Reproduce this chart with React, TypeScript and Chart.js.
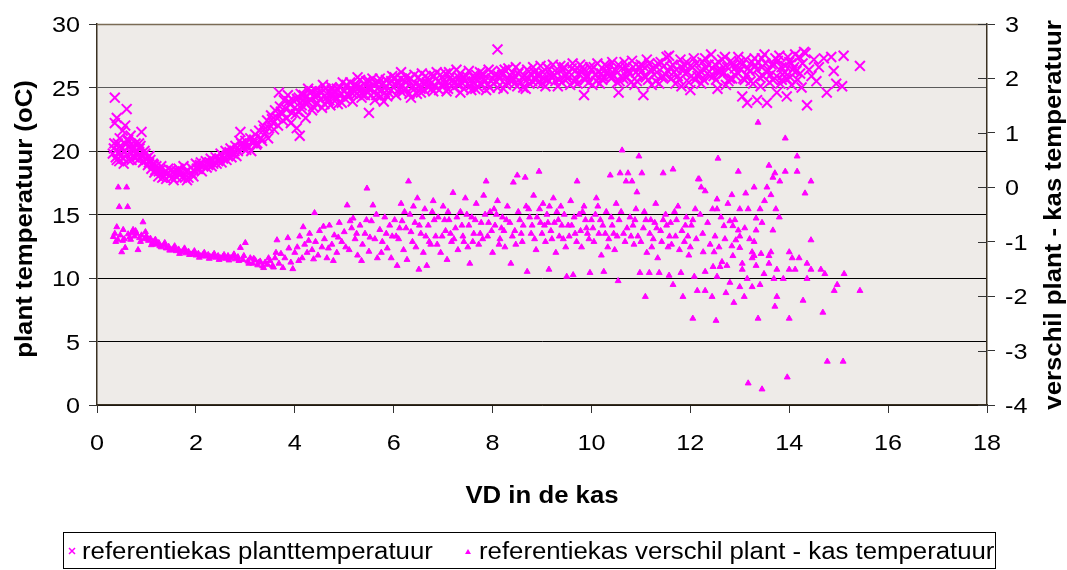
import { useEffect, useRef } from 'react';
import { Chart, registerables } from 'chart.js';

Chart.register(...registerables);

// ---------- DATA ----------
const xTickValues = [0, 2, 4, 6, 8, 10, 12, 14, 16, 18];
const leftTickValues = [0, 5, 10, 15, 20, 25, 30];
const rightTickValues = [-4, -3, -2, -1, 0, 1, 2, 3];

const seriesPlantLabel = 'referentiekas planttemperatuur';
const seriesDiffLabel = 'referentiekas verschil plant - kas temperatuur';
const xTitle = 'VD in de kas';
const leftTitle = 'plant temperatuur (oC)';
const rightTitle = 'verschil plant - kas temperatuur';

// plant temperature, VD < 4
const plantTempRise: number[][] = [
  [0.32, 19.8], [0.34, 20.2], [0.36, 24.2], [0.36, 22.2], [0.38, 19.5], [0.4, 22.6], [0.42, 20.6], [0.44, 19.9],
  [0.46, 21.0], [0.48, 19.6], [0.5, 20.3], [0.52, 21.6], [0.53, 19.4], [0.55, 20.0], [0.57, 22.0], [0.6, 23.3],
  [0.6, 19.7], [0.62, 20.8], [0.64, 19.3], [0.66, 20.4], [0.68, 21.2], [0.7, 19.8], [0.72, 20.1], [0.75, 19.5],
  [0.78, 20.6], [0.8, 19.9], [0.83, 19.3], [0.86, 20.2], [0.9, 21.5], [0.9, 19.6], [0.93, 19.1], [0.96, 20.0],
  [1.0, 19.4], [1.03, 18.9], [1.06, 19.6], [1.1, 18.6], [1.13, 19.0], [1.16, 18.3], [1.2, 18.8], [1.24, 18.0],
  [1.28, 18.5], [1.32, 17.9], [1.36, 18.3], [1.4, 17.8], [1.44, 18.6], [1.48, 18.1], [1.52, 17.9], [1.56, 18.4],
  [1.6, 18.0], [1.65, 18.6], [1.7, 18.2], [1.75, 18.8], [1.8, 18.4], [1.85, 17.9], [1.9, 18.7], [1.95, 18.5],
  [2.0, 19.0], [2.05, 18.6], [2.1, 19.1], [2.15, 18.8], [2.2, 19.2], [2.25, 18.9], [2.3, 19.4], [2.35, 19.0],
  [2.4, 19.5], [2.45, 19.2], [2.5, 19.8], [2.55, 19.4], [2.6, 20.0], [2.65, 19.6], [2.7, 20.2], [2.75, 19.8],
  [2.8, 20.4], [2.85, 20.0], [2.9, 21.5], [2.92, 20.6], [2.96, 20.2], [3.0, 20.8], [3.05, 20.4], [3.1, 21.0],
  [3.15, 20.6], [3.2, 21.3], [3.24, 20.6], [3.28, 21.6], [3.32, 21.0], [3.36, 22.0], [3.4, 21.4], [3.44, 22.4],
  [3.48, 21.8], [3.52, 22.8], [3.56, 22.2], [3.6, 23.2], [3.64, 22.6], [3.68, 24.6], [3.7, 23.5], [3.74, 22.9],
  [3.78, 24.0], [3.82, 23.3], [3.86, 24.4], [3.9, 23.7], [3.92, 22.2], [3.96, 24.0], [4.0, 23.4],
  [0.45, 19.2], [0.58, 20.5], [0.7, 19.3], [0.85, 20.6], [0.98, 19.8], [1.08, 19.3], [1.18, 18.5], [1.3, 18.8],
  [1.42, 18.2], [1.55, 17.7], [1.67, 18.3], [1.78, 17.9], [1.92, 18.2], [2.02, 18.6], [2.12, 18.4], [2.22, 18.7],
  [2.32, 18.8], [2.42, 19.0], [2.52, 19.1], [2.62, 19.3], [2.72, 19.5], [2.82, 19.6], [2.88, 20.8], [3.02, 20.1],
  [3.12, 20.0], [3.22, 20.5], [3.34, 20.8], [3.46, 21.0], [3.58, 21.7], [3.66, 22.0], [3.76, 22.4], [3.84, 22.6],
  [3.94, 23.0], [1.95, 18.0], [1.82, 17.7],
  [0.35, 20.6], [0.4, 19.3], [0.47, 20.4], [0.54, 19.0], [0.63, 20.9], [0.74, 20.3], [0.82, 19.6], [0.88, 20.4],
  [0.95, 19.2], [1.05, 19.1], [1.15, 18.9], [1.25, 18.4], [1.35, 18.0], [1.5, 18.5], [1.62, 18.4], [1.72, 17.9],
  [2.08, 18.9], [2.28, 19.1], [2.48, 19.4], [2.68, 19.9], [2.78, 20.0], [2.98, 20.5], [3.18, 20.9], [3.38, 21.7],
  [3.54, 22.5], [3.72, 23.1], [3.88, 23.9],
];

// plant temperature, VD >= 4 (first pass)
const plantTempPlateauA: number[][] = [
  [4.04, 21.8], [4.08, 24.2], [4.1, 21.2], [4.14, 23.6], [4.18, 24.4], [4.22, 22.6], [4.26, 23.9], [4.3, 24.6],
  [4.35, 23.2], [4.4, 24.3], [4.45, 23.8], [4.5, 24.7], [4.55, 23.4], [4.6, 23.7], [4.65, 24.5], [4.7, 24.0],
  [4.75, 24.8], [4.8, 24.2], [4.85, 24.9], [4.9, 24.4], [4.95, 23.8], [5.0, 24.7], [5.05, 25.1], [5.1, 24.3],
  [5.15, 24.9], [5.2, 25.2], [5.25, 24.5], [5.3, 25.0], [5.35, 24.2], [5.4, 25.3], [5.45, 24.7], [5.5, 25.5],
  [5.5, 23.0], [5.55, 24.9], [5.6, 25.2], [5.65, 24.4], [5.7, 25.4], [5.75, 24.8], [5.8, 23.9], [5.85, 25.1],
  [5.9, 24.6], [5.95, 25.5], [6.0, 25.0], [6.05, 24.4], [6.1, 25.3], [6.15, 26.2], [6.2, 24.8], [6.3, 25.6],
  [6.35, 24.2], [6.4, 25.1], [6.5, 25.8], [6.55, 24.6], [6.6, 25.3], [6.7, 25.0], [6.75, 26.0], [6.8, 24.7],
  [6.9, 25.5], [7.0, 25.1], [7.05, 26.1], [7.1, 24.9], [7.2, 25.6], [7.3, 25.2], [7.35, 24.6], [7.4, 25.8],
  [7.5, 25.3], [7.6, 25.9], [7.65, 24.9], [7.7, 25.5], [7.8, 26.1], [7.9, 25.2], [8.0, 25.7], [8.1, 28.0],
  [8.1, 25.0], [8.2, 26.0], [8.3, 25.4], [8.4, 26.2], [8.5, 25.1], [8.6, 25.8], [8.7, 26.4], [8.8, 25.5],
  [8.9, 26.0], [9.0, 25.3], [9.1, 26.6], [9.2, 25.8], [9.3, 26.2], [9.4, 25.4], [9.5, 26.0], [9.6, 26.5],
  [9.7, 25.6], [9.8, 26.2], [9.85, 24.4], [9.9, 25.8], [10.0, 26.4], [10.1, 25.5], [10.2, 26.1], [10.3, 26.7],
  [10.4, 25.7], [10.5, 26.3], [10.55, 24.6], [10.6, 25.9], [10.7, 26.6], [10.8, 25.4], [10.9, 26.2], [11.0, 26.8],
  [11.05, 24.4], [11.1, 25.8], [11.2, 26.4], [11.3, 25.5], [11.4, 27.0], [11.5, 26.0], [11.6, 26.6], [11.7, 25.3],
  [11.8, 27.2], [11.9, 26.1], [12.0, 24.8], [12.0, 26.7], [12.1, 25.6], [12.2, 26.3], [12.3, 27.3], [12.4, 25.9],
  [12.5, 26.8], [12.55, 24.9], [12.6, 26.2], [12.7, 27.4], [12.8, 25.7], [12.9, 26.5], [13.0, 27.0], [13.05, 24.3],
  [13.1, 25.6], [13.15, 23.8], [13.2, 26.3], [13.3, 27.3], [13.35, 24.0], [13.4, 25.8], [13.45, 26.6], [13.5, 27.6],
  [13.55, 23.8], [13.6, 25.4], [13.7, 26.8], [13.75, 24.6], [13.8, 27.5], [13.85, 25.6], [13.9, 26.2], [13.95, 24.3],
  [14.0, 27.0], [14.05, 25.2], [14.1, 26.6], [14.2, 27.4], [14.25, 25.0], [14.3, 27.8], [14.36, 23.6], [14.4, 26.4],
  [14.5, 27.2], [14.55, 25.5], [14.7, 27.3], [14.76, 24.6], [14.9, 26.3], [15.07, 25.1], [15.1, 27.5], [15.43, 26.7],
];

// plant temperature, VD >= 4 (second pass)
const plantTempPlateauB: number[][] = [
  [4.02, 22.9], [4.12, 24.5], [4.22, 23.8], [4.32, 24.0], [4.42, 24.8], [4.52, 24.1], [4.62, 24.9], [4.72, 23.6],
  [4.82, 24.6], [4.92, 25.0], [5.02, 24.1], [5.12, 25.4], [5.22, 24.7], [5.32, 25.6], [5.42, 24.4], [5.52, 25.0],
  [5.62, 24.0], [5.72, 25.7], [5.82, 24.6], [5.92, 25.3], [6.02, 25.8], [6.12, 24.9], [6.22, 25.5], [6.32, 24.5],
  [6.42, 26.0], [6.52, 25.2], [6.62, 24.8], [6.72, 25.6], [6.82, 25.9], [6.92, 24.8], [7.02, 25.6], [7.12, 26.2],
  [7.22, 25.0], [7.32, 25.8], [7.42, 24.9], [7.52, 26.3], [7.62, 25.4], [7.72, 25.0], [7.82, 25.7], [7.92, 26.4],
  [8.02, 25.3], [8.12, 25.9], [8.22, 24.9], [8.32, 26.5], [8.42, 25.6], [8.52, 26.1], [8.62, 25.0], [8.72, 25.7],
  [8.82, 26.6], [8.92, 25.4], [9.02, 26.2], [9.12, 25.6], [9.22, 26.8], [9.32, 25.1], [9.42, 26.4], [9.52, 25.7],
  [9.62, 26.9], [9.72, 25.3], [9.82, 26.6], [9.92, 25.9], [10.02, 25.2], [10.12, 26.9], [10.22, 25.6], [10.32, 26.2],
  [10.42, 27.0], [10.52, 25.4], [10.62, 26.5], [10.72, 25.8], [10.82, 27.1], [10.92, 25.5], [11.02, 26.3], [11.12, 27.2],
  [11.22, 25.2], [11.32, 26.6], [11.42, 25.8], [11.52, 27.4], [11.62, 25.7], [11.72, 26.4], [11.82, 25.1], [11.92, 27.0],
  [12.02, 25.9], [12.12, 26.9], [12.22, 25.3], [12.32, 26.5], [12.42, 27.6], [12.52, 25.6], [12.62, 26.4], [12.72, 25.2],
  [12.82, 27.1], [12.92, 25.9], [13.02, 26.4], [13.12, 27.2], [13.22, 25.5], [13.32, 26.7], [13.42, 25.1], [13.52, 26.9],
  [13.62, 26.0], [13.72, 27.3], [13.82, 25.3], [13.92, 26.7], [14.02, 25.8], [14.12, 27.6], [14.22, 26.1],
];

// plant temperature, VD >= 4 (third pass)
const plantTempPlateauC: number[][] = [
  [4.07, 23.1], [4.17, 24.0], [4.27, 24.9], [4.37, 23.5], [4.47, 24.4], [4.57, 25.2], [4.67, 23.9], [4.77, 24.5],
  [4.87, 23.7], [4.97, 25.4], [5.07, 24.5], [5.17, 23.9], [5.27, 25.8], [5.37, 24.9], [5.47, 25.0], [5.57, 25.7],
  [5.67, 24.9], [5.77, 25.2], [5.87, 24.3], [5.97, 25.9], [6.07, 25.5], [6.17, 24.6], [6.27, 25.9], [6.37, 25.0],
  [6.47, 24.5], [6.57, 26.1], [6.67, 25.4], [6.77, 24.9], [6.87, 26.2], [6.97, 25.2], [7.07, 24.7], [7.17, 25.5],
  [7.27, 26.4], [7.37, 25.4], [7.47, 25.9], [7.57, 24.8], [7.67, 26.0], [7.77, 25.3], [7.87, 24.8], [7.97, 26.2],
  [8.07, 25.5], [8.17, 26.3], [8.27, 25.2], [8.37, 25.9], [8.47, 26.6], [8.57, 25.4], [8.67, 24.9], [8.77, 26.1],
  [8.87, 25.6], [8.97, 26.7], [9.07, 25.1], [9.17, 26.0], [9.27, 25.5], [9.37, 26.7], [9.47, 25.9], [9.57, 25.2],
  [9.67, 26.3], [9.77, 26.8], [9.87, 25.6], [9.97, 26.6], [10.07, 26.0], [10.17, 25.3], [10.27, 26.8], [10.37, 25.9],
  [10.47, 26.4], [10.57, 25.5], [10.67, 27.0], [10.77, 26.1], [10.87, 25.2], [10.97, 26.6], [11.07, 25.9], [11.17, 26.9],
  [11.27, 26.0], [11.37, 25.3], [11.47, 26.7], [11.57, 27.5], [11.67, 26.2], [11.77, 25.6], [11.87, 26.8], [11.97, 25.4],
  [12.07, 27.3], [12.17, 26.1], [12.27, 25.6], [12.37, 26.8], [12.47, 25.9], [12.57, 27.0], [12.67, 26.1], [12.77, 25.5],
  [12.87, 26.8], [12.97, 27.4], [13.07, 25.7], [13.17, 26.5], [13.27, 25.3], [13.37, 27.0], [13.47, 25.9], [13.57, 26.4],
  [13.67, 25.6], [13.77, 27.1], [13.87, 26.0], [13.97, 27.4], [14.07, 26.4], [14.17, 25.6], [14.27, 26.9], [14.33, 27.7],
  [14.45, 25.9], [14.6, 26.6], [14.85, 27.4], [14.95, 25.3],
];

// plant temperature, VD >= 4 (fourth pass)
const plantTempPlateauD: number[][] = [
  [4.045, 24.1], [4.145, 23.3], [4.245, 24.3], [4.345, 24.7], [4.445, 23.7], [4.545, 24.6], [4.645, 24.2], [4.745, 25.0],
  [4.845, 24.1], [4.945, 24.5], [5.045, 25.2], [5.145, 24.6], [5.245, 25.1], [5.345, 24.5], [5.445, 25.5], [5.545, 24.4],
  [5.645, 25.3], [5.745, 24.3], [5.845, 25.6], [5.945, 24.8], [6.045, 25.2], [6.145, 25.7], [6.245, 24.9], [6.345, 25.7],
  [6.445, 25.3], [6.545, 24.9], [6.645, 25.9], [6.745, 25.3], [6.845, 25.1], [6.945, 26.0], [7.045, 25.3], [7.145, 25.8],
  [7.245, 25.4], [7.345, 26.1], [7.445, 25.5], [7.545, 25.1], [7.645, 25.7], [7.745, 26.2], [7.845, 25.5], [7.945, 25.0],
  [8.045, 26.0], [8.145, 25.7], [8.245, 26.4], [8.345, 25.6], [8.445, 25.3], [8.545, 26.3], [8.645, 25.9], [8.745, 25.3],
  [8.845, 26.2], [8.945, 26.0], [9.045, 25.7], [9.145, 26.4], [9.245, 25.9], [9.345, 25.6], [9.445, 26.6], [9.545, 26.2],
  [9.645, 25.5], [9.745, 26.1], [9.845, 26.4], [9.945, 25.4], [10.045, 26.6], [10.145, 26.2], [10.245, 25.8], [10.345, 26.5],
  [10.445, 25.9], [10.545, 26.8], [10.645, 25.7], [10.745, 26.3], [10.845, 26.6], [10.945, 26.0], [11.045, 26.7], [11.145, 25.6],
  [11.245, 26.5], [11.345, 26.9], [11.445, 25.9], [11.545, 26.3], [11.645, 26.8], [11.745, 25.9], [11.845, 26.5], [11.945, 26.2],
  [12.045, 26.6], [12.145, 25.9], [12.245, 27.0], [12.345, 26.1], [12.445, 26.5], [12.545, 26.3], [12.645, 27.2], [12.745, 26.6],
  [12.845, 25.7], [12.945, 26.2], [13.045, 26.8], [13.145, 26.0], [13.245, 27.0], [13.345, 26.4], [13.445, 27.3], [13.545, 26.2],
  [13.645, 26.8], [13.745, 25.9], [13.845, 26.6], [13.945, 25.7], [14.045, 26.9], [14.145, 26.3],
];

// difference plant - greenhouse, VD < 4
const diffLow: number[][] = [
  [0.33, -0.91], [0.36, -0.85], [0.4, -0.73], [0.42, -0.96], [0.43, 0.0], [0.45, -0.36], [0.47, -0.88], [0.5, -1.19],
  [0.53, -0.78], [0.55, -0.95], [0.57, -1.11], [0.6, 0.0], [0.62, -0.36], [0.63, -0.86], [0.66, -0.92], [0.7, -0.84],
  [0.73, -0.78], [0.76, -0.9], [0.8, -0.85], [0.83, -1.15], [0.86, -0.93], [0.9, -0.88], [0.93, -0.64], [0.96, -0.95],
  [1.0, -0.9], [1.04, -0.98], [1.08, -0.94], [1.12, -1.02], [1.16, -0.99], [1.2, -1.05], [1.25, -1.02], [1.3, -1.1],
  [1.35, -1.06], [1.4, -1.12], [1.45, -1.09], [1.5, -1.15], [1.55, -1.12], [1.6, -1.17], [1.65, -1.14], [1.7, -1.19],
  [1.75, -1.16], [1.8, -1.21], [1.85, -1.18], [1.9, -1.23], [1.95, -1.2], [2.0, -1.25], [2.05, -1.22], [2.1, -1.26],
  [2.15, -1.23], [2.2, -1.27], [2.25, -1.24], [2.3, -1.28], [2.35, -1.25], [2.4, -1.29], [2.45, -1.26], [2.5, -1.3],
  [2.55, -1.27], [2.6, -1.31], [2.65, -1.26], [2.7, -1.3], [2.75, -1.27], [2.8, -1.32], [2.85, -1.28], [2.9, -1.11],
  [2.95, -1.33], [3.0, -1.02], [3.05, -1.36], [3.1, -1.3], [3.15, -1.4], [3.2, -1.34], [3.25, -1.43], [3.3, -1.36],
  [3.35, -1.45], [3.4, -1.38], [3.45, -1.42], [3.5, -1.35], [3.55, -1.44], [3.6, -1.3], [3.64, -0.97], [3.68, -1.4],
  [3.72, -1.22], [3.76, -1.48], [3.8, -1.3], [3.86, -0.93], [3.88, -1.12], [3.92, -1.38], [3.96, -1.5], [4.0, -1.2],
  [0.38, -1.0], [0.52, -0.98], [0.68, -0.96], [0.78, -0.8], [0.88, -1.0], [0.98, -0.82],
  [1.02, -0.94], [1.1, -1.06], [1.18, -0.96], [1.27, -1.08], [1.37, -1.02], [1.47, -1.16], [1.57, -1.08], [1.67, -1.22],
  [1.77, -1.12], [1.87, -1.24], [1.97, -1.17], [2.07, -1.29], [2.17, -1.2], [2.27, -1.31], [2.37, -1.22], [2.47, -1.33],
  [2.57, -1.24], [2.67, -1.34], [2.77, -1.23], [2.87, -1.35], [2.97, -1.26], [3.07, -1.4], [3.17, -1.31], [3.27, -1.38],
  [3.37, -1.48], [3.47, -1.3], [3.57, -1.47], [3.62, -1.2],
];

// difference plant - greenhouse, 4 <= VD < 12
const diffMid: number[][] = [
  [4.05, -1.1], [4.1, -0.9], [4.15, -1.3], [4.17, -0.73], [4.2, -1.05], [4.25, -1.2], [4.3, -0.85], [4.35, -1.15],
  [4.4, -0.47], [4.42, -1.0], [4.47, -1.25], [4.5, -0.8], [4.55, -1.1], [4.6, -0.95], [4.65, -1.3], [4.7, -0.7],
  [4.75, -1.05], [4.8, -0.88], [4.85, -1.2], [4.9, -0.65], [4.95, -1.0], [5.0, -0.82], [5.06, -0.33], [5.1, -1.15],
  [5.15, -0.75], [5.18, -0.57], [5.22, -0.95], [5.27, -1.25], [5.32, -0.7], [5.37, -1.05], [5.42, -0.85], [5.46, -0.02],
  [5.5, -1.18], [5.55, -0.62], [5.58, -0.33], [5.62, -0.95], [5.67, -1.3], [5.72, -0.78], [5.77, -1.0], [5.82, -0.55],
  [5.87, -1.12], [5.92, -0.7], [5.97, -0.9],
  [4.08, -1.35], [4.28, -0.98], [4.38, -1.32], [4.58, -0.72], [4.68, -1.12], [4.78, -1.35], [4.88, -0.92], [5.03, -1.1],
  [5.12, -0.62], [5.25, -0.85], [5.35, -1.35], [5.45, -0.6], [5.52, -0.92], [5.65, -0.5], [5.75, -1.2], [5.85, -0.85],
  [5.95, -1.3],
  [6.02, -0.6], [6.07, -1.44], [6.1, -0.95], [6.15, -0.3], [6.2, -1.15], [6.25, -0.75], [6.27, -1.33], [6.3, 0.11],
  [6.33, -0.5], [6.38, -1.0], [6.43, -0.65], [6.48, -0.2], [6.51, -1.51], [6.55, -0.85], [6.6, -1.2], [6.63, -0.4],
  [6.67, -1.44], [6.7, -0.7], [6.75, -1.05], [6.8, -0.25], [6.85, -0.9], [6.9, -0.55], [6.95, -1.2], [7.0, -0.35],
  [7.05, -0.8], [7.08, -1.33], [7.12, -0.6], [7.17, -1.0], [7.2, -0.1], [7.25, -0.75], [7.3, -1.15], [7.35, -0.45],
  [7.4, -0.9], [7.45, -0.2], [7.5, -1.1], [7.54, -1.4], [7.58, -0.55], [7.62, -0.85], [7.67, -0.3], [7.72, -1.05],
  [7.77, -0.65], [7.82, -0.15], [7.87, 0.11], [7.9, -0.9], [7.95, -0.45], [8.0, -1.2], [8.05, -0.7], [8.1, -0.25],
  [8.15, -0.95], [8.2, -0.55], [8.25, -1.1], [8.3, -0.35], [8.37, -1.4], [8.42, 0.09], [8.45, -0.8], [8.5, 0.22],
  [8.55, -0.6], [8.6, -1.0], [8.66, 0.18], [8.7, -1.55], [8.73, -0.4], [8.78, -0.85], [8.83, -0.15], [8.88, -1.15],
  [8.94, 0.29], [8.97, -0.65], [9.02, -0.3], [9.07, -1.0], [9.1, -0.5], [9.14, -1.51], [9.18, -0.8], [9.23, -0.2],
  [9.28, -1.2], [9.33, -0.6], [9.38, -0.35], [9.43, -0.95], [9.5, -1.64], [9.53, -0.7], [9.58, -0.25], [9.63, -1.61],
  [9.67, -0.85], [9.71, 0.11], [9.75, -0.5], [9.8, -1.1], [9.85, -0.35], [9.9, -0.75], [9.97, -1.57], [10.0, -0.6],
  [10.05, -1.0], [10.1, -0.2], [10.15, -0.85], [10.2, -1.25], [10.25, -1.55], [10.3, -0.45], [10.35, -0.95], [10.38, 0.22],
  [10.42, -0.7], [10.47, -1.15], [10.5, -0.3], [10.54, -1.72], [10.58, 0.26], [10.62, 0.68], [10.65, -0.85], [10.7, 0.11],
  [10.74, 0.26], [10.78, -0.55], [10.82, 0.11], [10.86, -1.05], [10.9, -0.4], [10.92, -0.09], [10.96, 0.57], [10.98, -1.57],
  [11.02, 0.26], [11.05, -0.75], [11.09, -2.01], [11.12, -1.2], [11.17, -1.57], [11.2, -0.6], [11.25, -0.95], [11.3, -0.3],
  [11.34, -1.3], [11.37, -1.57], [11.4, -0.8], [11.45, 0.26], [11.5, -0.5], [11.55, -1.1], [11.57, -1.62], [11.6, -0.65],
  [11.65, 0.33], [11.65, -1.79], [11.7, -0.9], [11.75, -0.35], [11.81, -1.57], [11.85, -2.01], [11.88, -1.0], [11.92, -0.55],
  [11.97, -1.25],
  [6.05, -0.9], [6.17, -0.62], [6.35, -0.82], [6.45, -1.1], [6.58, -0.55], [6.72, -1.0], [6.82, -0.6], [6.98, -0.9],
  [7.1, -0.45], [7.22, -0.95], [7.38, -0.7], [7.48, -0.5], [7.6, -1.0], [7.75, -0.85], [7.85, -0.5], [7.98, -0.8],
  [8.08, -0.5], [8.18, -0.75], [8.28, -0.6], [8.4, -0.9], [8.52, -0.45], [8.62, -0.7], [8.75, -0.55], [8.85, -0.95],
  [8.95, -0.4], [9.05, -0.7], [9.15, -0.35], [9.25, -0.65], [9.35, -0.9], [9.45, -0.5], [9.55, -0.9], [9.65, -0.55],
  [9.78, -0.8], [9.88, -0.6], [9.95, -0.95], [10.08, -0.5], [10.18, -0.6], [10.28, -0.85], [10.4, -0.55], [10.52, -0.9],
  [10.6, -0.45], [10.72, -0.75], [10.84, -0.7], [10.94, -0.9], [11.07, -0.45], [11.18, -0.85], [11.28, -0.65], [11.42, -1.0],
  [11.52, -0.7], [11.62, -1.05], [11.72, -0.6], [11.83, -0.8], [11.95, -0.9],
  [6.12, -0.75], [6.22, -0.45], [6.4, -0.35], [6.52, -0.7], [6.65, -0.9], [6.78, -0.45], [6.88, -1.05], [7.03, -0.6],
  [7.15, -0.85], [7.28, -0.55], [7.42, -1.0], [7.52, -0.7], [7.65, -0.6], [7.8, -0.95], [7.92, -0.65], [8.03, -0.4],
  [8.13, -1.05], [8.23, -0.8], [8.35, -0.65], [8.47, -1.05], [8.58, -0.85], [8.68, -0.35], [8.8, -0.7], [8.9, -0.55],
  [9.0, -0.85], [9.12, -0.65], [9.2, -0.95], [9.3, -0.45], [9.4, -0.7], [9.48, -1.1], [9.6, -0.7], [9.7, -1.0],
  [9.82, -0.45], [9.92, -0.85], [10.03, -0.75], [10.13, -0.35], [10.23, -0.7], [10.33, -1.1], [10.45, -0.85], [10.56, -0.6],
  [10.68, -1.0], [10.8, -0.9], [10.88, -0.6], [11.0, -1.0], [11.1, -0.6], [11.22, -1.1], [11.32, -0.75], [11.45, -0.6],
  [11.58, -0.9], [11.68, -0.45], [11.78, -1.15], [11.9, -0.7],
];

// difference plant - greenhouse, VD >= 12
const diffHigh: number[][] = [
  [12.0, -1.1], [12.02, -0.7], [12.05, -2.41], [12.08, -1.64], [12.1, -0.4], [12.14, -1.9], [12.16, 0.15],
  [12.18, 0.15], [12.22, 0.0], [12.26, -1.19], [12.3, -0.07], [12.3, -1.55], [12.3, -1.9], [12.44, -2.01], [12.46, -1.46],
  [12.48, -1.19], [12.52, -2.45], [12.54, -0.22], [12.54, -0.4], [12.54, -1.64], [12.56, 0.53], [12.6, -1.46], [12.64, -1.37],
  [12.68, -0.71], [12.72, -1.94], [12.74, -1.44], [12.8, -0.62], [12.8, -1.75], [12.84, -0.14], [12.84, -1.08], [12.86, -0.71],
  [12.86, -1.26], [12.88, -2.12], [12.92, -0.97], [12.97, 0.29], [12.97, -0.79], [13.0, -0.4], [13.0, -0.9], [13.0, -1.11],
  [13.0, -1.83], [13.05, -1.4], [13.05, -1.51], [13.09, -2.01], [13.12, -0.11], [13.15, -1.68], [13.17, -0.4], [13.17, -3.6],
  [13.25, -1.19], [13.25, -1.3], [13.25, -1.83], [13.29, 0.0], [13.29, -1.0], [13.29, -1.26], [13.33, -0.57], [13.33, -0.79],
  [13.33, -1.44], [13.37, 1.19], [13.37, -2.41], [13.41, -0.4], [13.41, -1.79], [13.43, -1.22], [13.45, -3.71], [13.49, -1.59],
  [13.55, 0.0], [13.59, 0.4], [13.59, -1.26], [13.59, -1.4], [13.63, -0.14], [13.63, -1.19], [13.67, 0.18], [13.67, -0.79],
  [13.69, -1.68], [13.71, 0.26], [13.71, -2.19], [13.73, -0.4], [13.75, -1.51], [13.75, -2.01], [13.8, -0.55], [13.81, 0.11],
  [13.88, -1.68], [13.92, 0.9], [13.92, 0.29], [13.96, -3.49], [14.0, -1.19], [14.0, -1.51], [14.0, -2.41], [14.06, -1.3],
  [14.12, -1.51], [14.16, 0.57], [14.16, 0.29], [14.2, -1.3], [14.28, -2.08], [14.32, -0.11], [14.36, -1.4], [14.36, -1.68],
  [14.44, 0.11], [14.44, -0.97], [14.44, -1.51], [14.64, -1.51], [14.68, -2.3], [14.72, -1.59], [14.77, -3.2], [14.91, -1.9],
  [14.97, -1.79], [15.09, -3.2], [15.11, -1.59], [15.43, -1.9],
  [12.05, -0.6], [12.12, -0.95], [12.2, -0.5], [12.25, -0.85], [12.35, -0.65], [12.4, -1.05], [12.45, -0.4], [12.5, -0.9],
  [12.58, -1.1], [12.62, -0.55], [12.7, -0.95], [12.76, -0.3], [12.9, -0.6], [13.1, -0.75], [13.2, -0.95], [13.45, -0.65],
  [13.5, -0.25],
];

// ---------- STYLE ----------
const FONT = '"Liberation Sans", Arial, Helvetica, sans-serif';
const MAGENTA = '#FF00FF';
const AXIS = '#3a3122';
const PLOT_BG = '#EEEBE8';
const STRETCH = 1.12;

function drawText(
  ctx: CanvasRenderingContext2D,
  text: string,
  x: number,
  y: number,
  size: number,
  bold: boolean,
  align: CanvasTextAlign,
  baseline: CanvasTextBaseline,
  rot = 0,
) {
  ctx.save();
  ctx.translate(x, y);
  if (rot) ctx.rotate(rot);
  ctx.scale(STRETCH, 1);
  ctx.font = `${bold ? 'bold ' : ''}${size}px ${FONT}`;
  ctx.textAlign = align;
  ctx.textBaseline = baseline;
  ctx.fillStyle = '#000';
  ctx.fillText(text, 0, 0);
  ctx.restore();
}

const decorPlugin = {
  id: 'decor',
  beforeDraw(chart: any) {
    const { ctx, chartArea: a } = chart;
    ctx.save();
    ctx.fillStyle = '#fff';
    ctx.fillRect(0, 0, chart.width, chart.height);
    ctx.fillStyle = PLOT_BG;
    ctx.fillRect(a.left, a.top, a.right - a.left, a.bottom - a.top);
    ctx.restore();
  },
  afterDraw(chart: any) {
    const { ctx, chartArea: a, scales } = chart;
    const xs = scales.x;
    const yl = scales.y;
    const yr = scales.y2;
    const tickSize = 22.5;
    const capHalf = (tickSize * 0.716) / 2;

    ctx.save();
    ctx.strokeStyle = '#7a6b55';
    ctx.lineWidth = 1.5;
    ctx.beginPath();
    ctx.moveTo(a.left, a.top + 0.5);
    ctx.lineTo(a.right, a.top + 0.5);
    ctx.stroke();
    ctx.strokeStyle = '#333';
    ctx.lineWidth = 1;
    for (const v of rightTickValues) {
      const py = Math.round(yr.getPixelForValue(v)) + 0.5;
      ctx.beginPath();
      ctx.moveTo(a.right - 9, py);
      ctx.lineTo(a.right, py);
      ctx.stroke();
    }
    ctx.restore();

    for (const v of xTickValues) {
      drawText(ctx, String(v), xs.getPixelForValue(v), 442 + capHalf, tickSize, false, 'center', 'alphabetic');
    }
    for (const v of leftTickValues) {
      drawText(ctx, String(v), 80, yl.getPixelForValue(v) + capHalf, tickSize, false, 'right', 'alphabetic');
    }
    for (const v of rightTickValues) {
      drawText(ctx, String(v), 1005, yr.getPixelForValue(v) + capHalf, tickSize, false, 'left', 'alphabetic');
    }

    drawText(ctx, xTitle, (a.left + a.right) / 2, 503, 23, true, 'center', 'alphabetic');
    drawText(ctx, leftTitle, 26, 219, 23, true, 'center', 'middle', -Math.PI / 2);
    drawText(ctx, rightTitle, 1055, 215, 23, true, 'center', 'middle', -Math.PI / 2);

    ctx.save();
    ctx.strokeStyle = '#000';
    ctx.lineWidth = 1;
    ctx.strokeRect(63.5, 532.5, 932, 36);
    const ly = 551;
    ctx.strokeStyle = MAGENTA;
    ctx.lineWidth = 1.5;
    ctx.beginPath();
    ctx.moveTo(69, ly - 3);
    ctx.lineTo(75, ly + 3);
    ctx.moveTo(75, ly - 3);
    ctx.lineTo(69, ly + 3);
    ctx.stroke();
    ctx.fillStyle = MAGENTA;
    ctx.beginPath();
    ctx.moveTo(468, ly - 2);
    ctx.lineTo(471, ly + 3);
    ctx.lineTo(465, ly + 3);
    ctx.closePath();
    ctx.fill();
    ctx.restore();
    drawText(ctx, seriesPlantLabel, 82, ly + 8, 23, false, 'left', 'alphabetic');
    drawText(ctx, seriesDiffLabel, 479, ly + 8, 23, false, 'left', 'alphabetic');
  },
};

const toPoints = (arr: number[][]) => arr.map(([x, y]) => ({ x, y }));
const setTicks = (values: number[]) => (scale: any) => {
  scale.ticks = values.map((v) => ({ value: v }));
};

export default function App() {
  const ref = useRef<HTMLCanvasElement>(null);

  useEffect(() => {
    const canvas = ref.current;
    if (!canvas) return;
    const chart = new Chart(canvas, {
      type: 'scatter',
      data: {
        datasets: [
          {
            label: seriesPlantLabel,
            data: toPoints([
              ...plantTempRise,
              ...plantTempPlateauA,
              ...plantTempPlateauB,
              ...plantTempPlateauC,
              ...plantTempPlateauD,
            ]),
            yAxisID: 'y',
            pointStyle: 'crossRot',
            pointRadius: 7,
            pointBorderWidth: 2,
            borderColor: MAGENTA,
            backgroundColor: MAGENTA,
          },
          {
            label: seriesDiffLabel,
            data: toPoints([...diffLow, ...diffMid, ...diffHigh]),
            yAxisID: 'y2',
            pointStyle: 'triangle',
            pointRadius: 3.4,
            pointBorderWidth: 1,
            borderColor: MAGENTA,
            backgroundColor: MAGENTA,
          },
        ],
      },
      options: {
        responsive: false,
        animation: false,
        devicePixelRatio: 1,
        events: [],
        layout: { padding: { top: 24, left: 0, right: 0, bottom: 0 } },
        plugins: {
          legend: { display: false },
          tooltip: { enabled: false },
          title: { display: false },
        },
        scales: {
          x: {
            type: 'linear',
            position: 'bottom',
            min: 0,
            max: 18,
            afterBuildTicks: setTicks(xTickValues),
            afterFit: (s: any) => {
              s.height = 165;
            },
            ticks: { display: false },
            grid: { drawOnChartArea: false, drawTicks: true, tickLength: 8, color: '#333', tickColor: '#333' },
            border: { display: true, color: AXIS, width: 1.5 },
          },
          y: {
            type: 'linear',
            position: 'left',
            min: 0,
            max: 30,
            afterBuildTicks: setTicks(leftTickValues),
            afterFit: (s: any) => {
              s.width = 97;
            },
            ticks: { display: false },
            grid: {
              drawTicks: true,
              tickLength: 8,
              tickColor: '#333',
              lineWidth: 1,
              color: (c: any) => (c.tick && c.tick.value === 25 ? '#5a5a5a' : '#000'),
            },
            border: { display: true, color: AXIS, width: 1.5 },
          },
          y2: {
            type: 'linear',
            position: 'right',
            min: -4,
            max: 3,
            afterBuildTicks: setTicks(rightTickValues),
            afterFit: (s: any) => {
              s.width = 80;
            },
            ticks: { display: false },
            grid: { drawOnChartArea: false, drawTicks: true, tickLength: 8, color: '#333', tickColor: '#333' },
            border: { display: true, color: AXIS, width: 1.5 },
          },
        },
      } as any,
      plugins: [decorPlugin],
    });
    return () => chart.destroy();
  }, []);

  return (
    <div style={{ position: 'fixed', left: 0, top: 0, width: 1067, height: 570, background: '#fff' }}>
      <canvas ref={ref} width={1067} height={570} style={{ display: 'block', width: 1067, height: 570 }} />
    </div>
  );
}
